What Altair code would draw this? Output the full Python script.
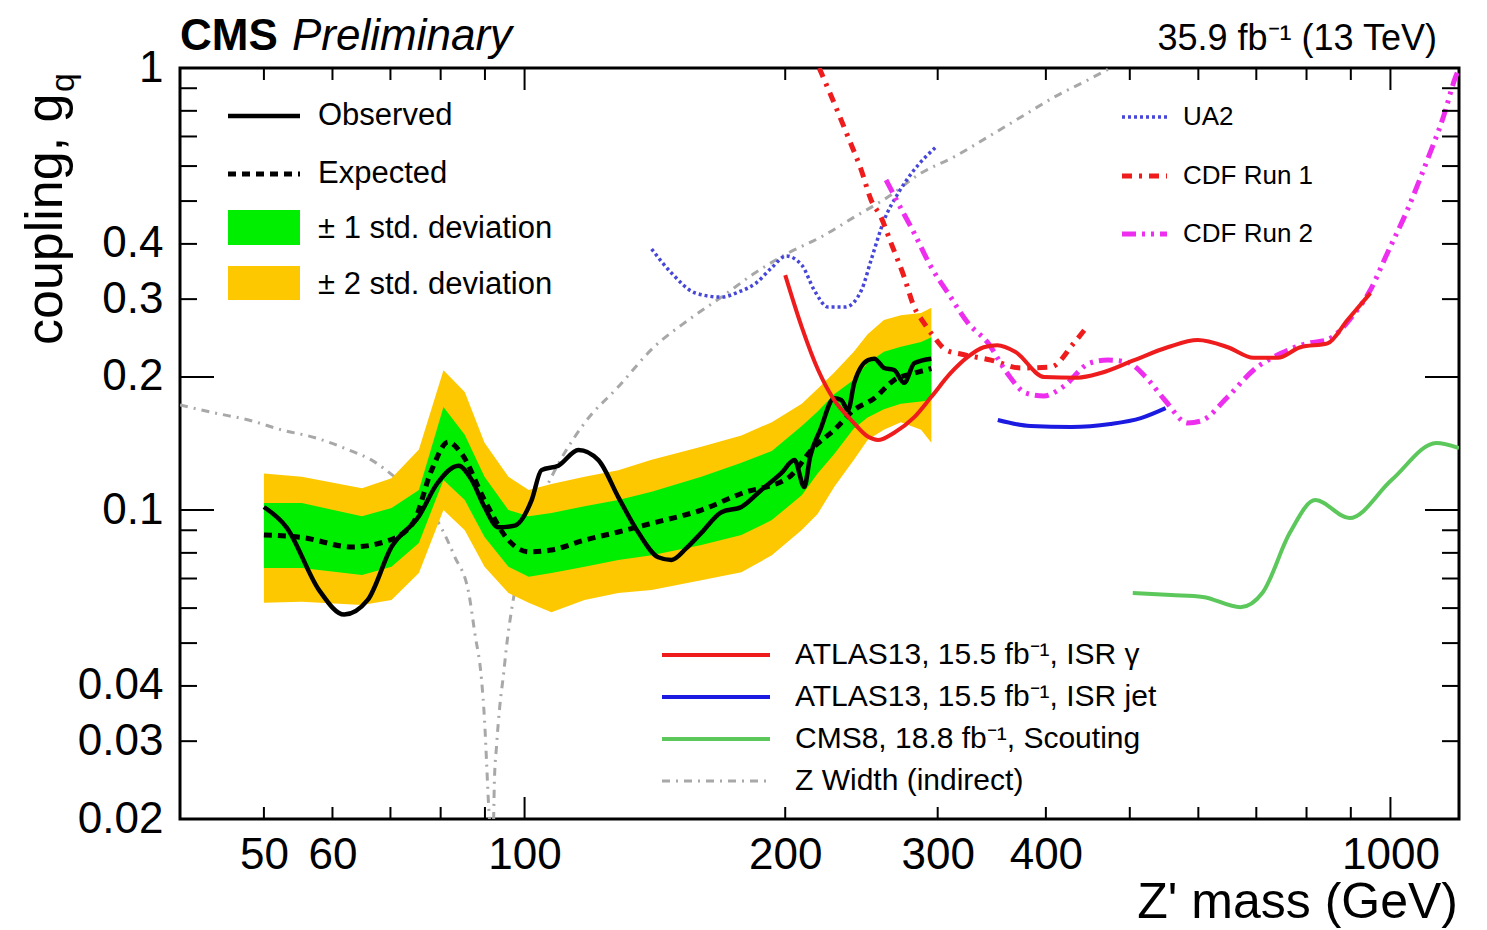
import altair as alt
import pandas as pd

FONT = "Liberation Sans"
W, H = 1279, 751

# ---------------- data (Z' mass in GeV, coupling g_q) ----------------
band_mass = [50, 55.3, 64.9, 70.2, 75.5, 80.6, 85.3, 89.9, 95.8, 101.1, 107.4, 117.3, 128.3,
             140.2, 160, 178, 193, 209, 218, 228, 240, 249, 260, 272, 287, 295]
band_2sig_hi = [0.121, 0.119, 0.112, 0.118, 0.137, 0.207, 0.185, 0.142, 0.119, 0.111, 0.1145, 0.119, 0.123,
                0.130, 0.139, 0.1475, 0.158, 0.174, 0.188, 0.205, 0.228, 0.25, 0.269, 0.276, 0.279, 0.287]
band_2sig_lo = [0.0617, 0.0620, 0.0610, 0.0626, 0.072, 0.1, 0.090, 0.0744, 0.0649, 0.0617, 0.0587, 0.0626, 0.0649,
                0.0659, 0.0694, 0.0723, 0.079, 0.0901, 0.098, 0.113, 0.1297, 0.144, 0.152, 0.158, 0.152, 0.142]
band_1sig_hi = [0.1037, 0.1037, 0.0968, 0.101, 0.111, 0.171, 0.148, 0.119, 0.100, 0.0968, 0.0985, 0.102, 0.1053,
                0.110, 0.119, 0.128, 0.136, 0.155, 0.167, 0.183, 0.197, 0.215, 0.228, 0.234, 0.240, 0.246]
band_1sig_lo = [0.0739, 0.0739, 0.0713, 0.0744, 0.0842, 0.117, 0.1053, 0.0869, 0.0744, 0.0706, 0.072, 0.0744, 0.0771,
                0.079, 0.0833, 0.0878, 0.0949, 0.108, 0.121, 0.134, 0.153, 0.162, 0.169, 0.174, 0.176, 0.1774]

exp_mass = [50, 55.3, 63.2, 69, 74.3, 78.1, 81.6, 84.6, 89.9, 95.8, 101.1, 107.4, 117.3, 128.3, 140.2,
            160, 178, 201.6, 216, 227.8, 240, 253.5, 267.2, 282, 295]
exp_val = [0.0878, 0.0867, 0.0825, 0.0848, 0.0933, 0.1231, 0.1425, 0.134, 0.1053, 0.0855, 0.0804, 0.0812,
           0.0855, 0.0892, 0.0933, 0.100, 0.109, 0.1183, 0.139, 0.1517, 0.1683, 0.179, 0.1968, 0.204, 0.209]

obs_mass = [50, 53.1, 57.9, 61.9, 65.9, 70.2, 75.5, 79.2, 83.9, 86.9, 89.9, 93.3, 97.4, 101.9, 104.6,
            109.4, 115.4, 121.7, 128.3, 135.4, 142.7, 147.8, 153.8, 160, 168.8, 178, 187.7, 197.8, 205,
            210.4, 213.7, 219.5, 227.8, 232.1, 236.4, 240.3, 249.4, 253.5, 260.2, 267.2, 274.4, 282, 295]
obs_val = [0.1016, 0.0914, 0.0659, 0.058, 0.0626, 0.0825, 0.0968, 0.1145, 0.126, 0.1169, 0.1016, 0.0914,
           0.0922, 0.1053, 0.1231, 0.126, 0.1367, 0.1297, 0.107, 0.0888, 0.0782, 0.0771, 0.082, 0.0888,
           0.0989, 0.1016, 0.111, 0.121, 0.1297, 0.1128, 0.132, 0.1517, 0.179, 0.1774, 0.1683, 0.194,
           0.2184, 0.220, 0.2096, 0.2074, 0.194, 0.215, 0.220]

atlas_gamma_mass = [200, 209, 218.3, 227.8, 238.4, 249.4, 255.9, 267.2, 281.7, 294.8, 310.6, 325, 339,
                    351.6, 369, 398, 435, 463, 505, 553, 599, 649, 695, 741, 787, 846, 892, 948]
atlas_gamma_val = [0.340, 0.2594, 0.2074, 0.1774, 0.1598, 0.1464, 0.144, 0.1496, 0.162, 0.1801, 0.2042,
                   0.222, 0.2335, 0.236, 0.2278, 0.2, 0.1993, 0.2042, 0.218, 0.2335, 0.2424, 0.2335, 0.221,
                   0.221, 0.2335, 0.2383, 0.2691, 0.3096]

atlas_jet_mass = [352, 384, 428, 475, 515, 550]
atlas_jet_val = [0.1598, 0.1549, 0.1541, 0.1565, 0.1614, 0.170]

cms8_mass = [504, 558, 607, 671, 712, 765, 819, 897, 1003, 1130, 1200]
cms8_val = [0.0649, 0.0642, 0.0636, 0.0603, 0.0651, 0.0887, 0.1053, 0.0959, 0.1169, 0.1418, 0.1381]

ua2_mass = [140.2, 147.8, 157.5, 168.8, 176.6, 185.1, 192.8, 200.5, 209, 216, 224.2, 234.7, 245, 251.3,
            260.2, 270.2, 281.7, 298.7]
ua2_val = [0.3895, 0.3437, 0.3097, 0.3032, 0.3113, 0.3263, 0.3528, 0.3755, 0.3583, 0.3146, 0.2879, 0.2879,
           0.3146, 0.3677, 0.4529, 0.5217, 0.5877, 0.6628]

cdf1_mass = [218.9, 227.8, 236.4, 244.8, 251.3, 258, 265, 274.4, 281.8, 289.3, 297.1, 306.7, 319, 345.7,
             374.4, 405.5, 430.9, 444.9]
cdf1_val = [1.0, 0.8333, 0.698, 0.5878, 0.503, 0.46, 0.4018, 0.3367, 0.2879, 0.2649, 0.2462, 0.2301, 0.2254,
            0.2184, 0.2096, 0.2107, 0.2386, 0.258]

cdf2_mass = [261.5, 270, 281.8, 294.8, 308.3, 325.2, 343, 360.7, 379.3, 398, 418.4, 449.6, 471.6, 496,
             521.7, 548.7, 583.4, 604, 648.6, 695, 748.6, 804, 844, 906, 948, 992, 1046, 1103, 1151, 1188, 1198]
cdf2_val = [0.558, 0.495, 0.4233, 0.3546, 0.3097, 0.2649, 0.2386, 0.2042, 0.1839, 0.1811, 0.1898, 0.2151,
            0.2184, 0.2162, 0.2, 0.1774, 0.1574, 0.159, 0.1802, 0.2074, 0.2266, 0.2386, 0.2424, 0.2762,
            0.3146, 0.3815, 0.4772, 0.6193, 0.7745, 0.9493, 0.99]

zwidth_low_mass = [40, 43.9, 48, 52.5, 57.3, 62.7, 66.6, 70.8, 74.6, 79.6, 83.0, 86.2, 87.6, 89.2, 89.9,
                   90.4, 90.9, 91.1]
zwidth_low_val = [0.1728, 0.1658, 0.1598, 0.1517, 0.1457, 0.1367, 0.1297, 0.1188, 0.1091, 0.0934, 0.0786,
                  0.0649, 0.0527, 0.0412, 0.0335, 0.0268, 0.0213, 0.0199]
zwidth_high_mass = [92.1, 92.3, 92.8, 93.6, 94.6, 95.3, 96.6, 99.2, 103.2, 107.4, 117.3, 128.3, 141.1, 154.6,
                    168.8, 184.5, 201.6, 220, 240.3, 262.8, 287.1, 313.1, 342.8, 374.4, 409.2, 447.3, 475]
zwidth_high_val = [0.0199, 0.0245, 0.0291, 0.0358, 0.0428, 0.049, 0.0594, 0.0771, 0.1, 0.1187, 0.1574, 0.19,
                   0.2338, 0.2691, 0.3032, 0.3437, 0.3815, 0.4147, 0.46, 0.5106, 0.5786, 0.629, 0.698,
                   0.7745, 0.86, 0.9394, 1.0]

x_tick_labels = [50, 60, 100, 200, 300, 400, 1000]
y_tick_labels = [0.02, 0.03, 0.04, 0.1, 0.2, 0.3, 0.4, 1]
x_minor_ticks = [50, 60, 70, 80, 90, 200, 300, 400, 500, 600, 700, 800, 900]
x_major_ticks = [100, 1000]
y_minor_ticks = [0.02, 0.03, 0.04, 0.05, 0.06, 0.07, 0.08, 0.09, 0.3, 0.4, 0.5, 0.6, 0.7, 0.8, 0.9]
y_major_ticks = [0.1, 0.2]

legend_main_labels = ["Observed", "Expected", "± 1 std. deviation", "± 2 std. deviation"]
legend_prev_labels = ["UA2", "CDF Run 1", "CDF Run 2"]
legend_other_labels = ["ATLAS13, 15.5 fb\u207b\u00b9, ISR \u03b3", "ATLAS13, 15.5 fb\u207b\u00b9, ISR jet",
                       "CMS8, 18.8 fb\u207b\u00b9, Scouting", "Z Width (indirect)"]
title_left = ["CMS", "Preliminary"]
title_right = "35.9 fb\u207b\u00b9 (13 TeV)"
x_title = "Z' mass (GeV)"
y_title = ["coupling, g", "q"]

# ---------------- styles ----------------
C_GREEN_BAND = "#00ee00"
C_YELLOW_BAND = "#fec800"
C_RED = "#ee1c1c"
C_BLUE = "#1a1ae0"
C_CMS8 = "#5cc85c"
C_UA2 = "#4646d8"
C_MAGENTA = "#ee2eee"
C_GRAY = "#a8a8a8"

DASH_EXP = [8, 6]
DASH_UA2 = [3, 3]
DASH_CDF1 = [10, 7, 3, 7]
DASH_CDF2 = [14, 6, 3, 6, 3, 6]
DASH_ZW = [8, 6, 2, 6]

xscale = alt.Scale(type="log", domain=[40, 1200], nice=False)
yscale = alt.Scale(type="log", domain=[0.02, 1], nice=False)
xaxis = alt.Axis(values=x_tick_labels, format="d", title=None, grid=False, ticks=False, domain=False,
                 labelFont=FONT, labelFontSize=44, labelColor="black", labelPadding=14,
                 labelOverlap=False, labelFlush=False)
yaxis = alt.Axis(values=y_tick_labels, format="~g", title=None, grid=False, ticks=False, domain=False,
                 labelFont=FONT, labelFontSize=44, labelColor="black", labelPadding=17,
                 labelOverlap=False, labelFlush=False)


def X(f):
    return alt.X(f, type="quantitative", scale=xscale, axis=xaxis)


def Y(f):
    return alt.Y(f, type="quantitative", scale=yscale, axis=yaxis)


def curve(mass, val, color, width, dash=None, interp="monotone"):
    df = pd.DataFrame({"m": mass, "g": val})
    kw = dict(color=color, strokeWidth=width, clip=True, interpolate=interp, strokeCap="butt")
    if dash:
        kw["strokeDash"] = dash
    return alt.Chart(df).mark_line(**kw).encode(x=X("m"), y=Y("g"))


layers = []

# Z width (two branches)
zw = pd.concat([
    pd.DataFrame({"m": zwidth_low_mass, "g": zwidth_low_val, "b": "low"}),
    pd.DataFrame({"m": zwidth_high_mass, "g": zwidth_high_val, "b": "high"}),
])
layers.append(alt.Chart(zw).mark_line(color=C_GRAY, strokeWidth=3, strokeDash=DASH_ZW, clip=True,
                                      interpolate="monotone")
              .encode(x=X("m"), y=Y("g"), detail="b:N"))

band = pd.DataFrame({"m": band_mass, "lo2": band_2sig_lo, "hi2": band_2sig_hi,
                     "lo1": band_1sig_lo, "hi1": band_1sig_hi})
layers.append(alt.Chart(band).mark_area(color=C_YELLOW_BAND, opacity=1, clip=True)
              .encode(x=X("m"), y=Y("lo2"), y2="hi2"))
layers.append(alt.Chart(band).mark_area(color=C_GREEN_BAND, opacity=1, clip=True)
              .encode(x=X("m"), y=Y("lo1"), y2="hi1"))

layers.append(curve(exp_mass, exp_val, "black", 5, DASH_EXP))
layers.append(curve(obs_mass, obs_val, "black", 4.5))
layers.append(curve(ua2_mass, ua2_val, C_UA2, 3.5, DASH_UA2))
layers.append(curve(cdf1_mass, cdf1_val, C_RED, 5, DASH_CDF1))
layers.append(curve(cdf2_mass, cdf2_val, C_MAGENTA, 5, DASH_CDF2))
layers.append(curve(atlas_gamma_mass, atlas_gamma_val, C_RED, 4))
layers.append(curve(atlas_jet_mass, atlas_jet_val, C_BLUE, 4))
layers.append(curve(cms8_mass, cms8_val, C_CMS8, 4))

# inward ticks on all four sides
def yticks(vals, length):
    df = pd.DataFrame({"v": vals})
    left = alt.Chart(df).mark_rule(color="black", strokeWidth=2).encode(
        y=Y("v"), x=alt.value(0), x2=alt.value(length))
    right = alt.Chart(df).mark_rule(color="black", strokeWidth=2).encode(
        y=Y("v"), x=alt.value(W - length), x2=alt.value(W))
    return [left, right]


def xticks(vals, length):
    df = pd.DataFrame({"v": vals})
    bottom = alt.Chart(df).mark_rule(color="black", strokeWidth=2).encode(
        x=X("v"), y=alt.value(H - length), y2=alt.value(H))
    top = alt.Chart(df).mark_rule(color="black", strokeWidth=2).encode(
        x=X("v"), y=alt.value(0), y2=alt.value(length))
    return [bottom, top]


layers += yticks(y_minor_ticks, 17) + yticks(y_major_ticks, 34)
layers += xticks(x_minor_ticks, 12) + xticks(x_major_ticks, 22)

one = pd.DataFrame({"k": [0]})


def lrule(x0, x1, y, color, width, dash=None):
    kw = dict(color=color, strokeWidth=width, strokeCap="butt")
    if dash:
        kw["strokeDash"] = dash
    return alt.Chart(one).mark_rule(**kw).encode(x=alt.value(x0), x2=alt.value(x1), y=alt.value(y))


def lbox(x0, x1, y0, y1, color):
    return alt.Chart(one).mark_rect(color=color, opacity=1).encode(
        x=alt.value(x0), x2=alt.value(x1), y=alt.value(y0), y2=alt.value(y1))


def label(text, x, y, size, align="left", baseline="middle", weight="normal", style="normal", angle=0):
    df = pd.DataFrame({"t": [text]})
    return alt.Chart(df).mark_text(align=align, baseline=baseline, font=FONT, fontSize=size,
                                   fontWeight=weight, fontStyle=style, angle=angle, color="black").encode(
        x=alt.value(x), y=alt.value(y), text="t:N")


# main legend (top left)
layers.append(lrule(48, 120, 48, "black", 4.5))
layers.append(lrule(48, 120, 106, "black", 5, DASH_EXP))
layers.append(lbox(48, 120, 142, 177, C_GREEN_BAND))
layers.append(lbox(48, 120, 198, 232, C_YELLOW_BAND))
for lab, yy in zip(legend_main_labels, [48, 106, 161, 217]):
    layers.append(label(lab, 138, yy, 31))

# previous searches legend (top right)
layers.append(lrule(942, 987, 49, C_UA2, 3.5, DASH_UA2))
layers.append(lrule(942, 987, 108, C_RED, 5, DASH_CDF1))
layers.append(lrule(942, 987, 166, C_MAGENTA, 5, DASH_CDF2))
for lab, yy in zip(legend_prev_labels, [49, 108, 166]):
    layers.append(label(lab, 1003, yy, 26))

# other experiments legend (bottom)
layers.append(lrule(482, 590, 587, C_RED, 4))
layers.append(lrule(482, 590, 629, C_BLUE, 4))
layers.append(lrule(482, 590, 671, C_CMS8, 4))
layers.append(lrule(482, 590, 713, C_GRAY, 3, DASH_ZW))
for lab, yy in zip(legend_other_labels, [587, 629, 671, 713]):
    layers.append(label(lab, 615, yy, 30))

# titles
layers.append(label(title_left[0], 0, -18, 44, baseline="alphabetic", weight="bold"))
layers.append(label(title_left[1], 112, -18, 44, baseline="alphabetic", style="italic"))
layers.append(label(title_right, 1257, -18, 36, align="right", baseline="alphabetic"))
layers.append(label(x_title, 1278, 850, 50, align="right", baseline="alphabetic"))
layers.append(label(y_title[0], -118, 277, 52, align="left", baseline="alphabetic", angle=270))
layers.append(label(y_title[1], -106, 24, 34, align="left", baseline="alphabetic", angle=270))

chart = alt.layer(*layers).properties(
    width=W, height=H,
    padding={"left": 172, "top": 60, "right": 10, "bottom": 115},
    autosize=alt.AutoSizeParams(type="none"),
).configure_view(stroke="black", strokeWidth=3)

chart.save("out.html", embed_options={"renderer": "svg", "actions": False})
